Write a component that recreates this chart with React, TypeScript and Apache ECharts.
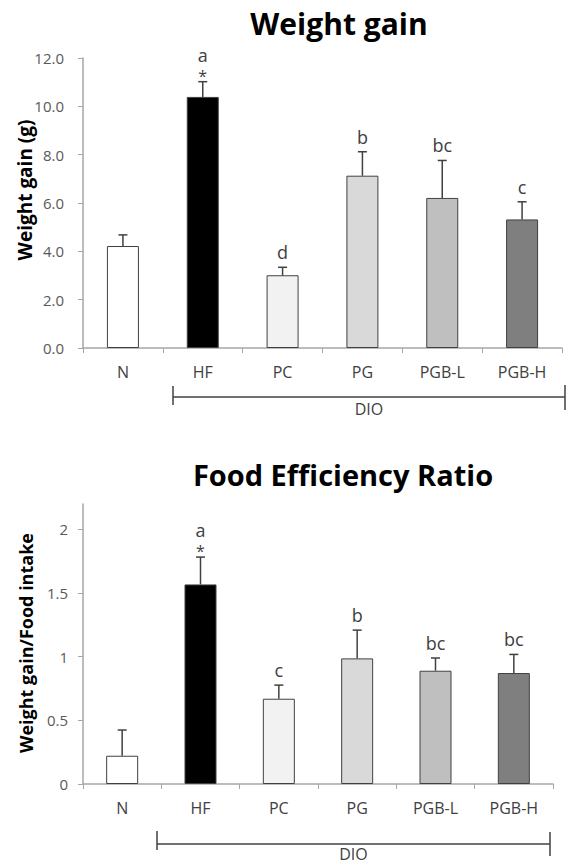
import React, { useEffect, useRef } from "react";
import * as echarts from "echarts";

const categories = ["N", "HF", "PC", "PG", "PGB-L", "PGB-H"];
const barColors = ["#ffffff", "#000000", "#f2f2f2", "#d9d9d9", "#bfbfbf", "#7f7f7f"];

const weightGain = [4.22, 10.39, 3.01, 7.13, 6.21, 5.32];
const weightGainErrTop = [4.68, 11.02, 3.34, 8.12, 7.76, 6.05];
const weightGainLetters = ["", "a", "d", "b", "bc", "c"];
const weightGainStars = [false, true, false, false, false, false];
const weightGainTicks = [0, 2, 4, 6, 8, 10, 12];

const fer = [0.222, 1.568, 0.67, 0.987, 0.89, 0.872];
const ferErrTop = [0.424, 1.783, 0.777, 1.209, 0.99, 1.018];
const ferLetters = ["", "a", "c", "b", "bc", "bc"];
const ferStars = [false, true, false, false, false, false];
const ferTicks = [0, 0.5, 1, 1.5, 2];

const FONT = "'Open Sans', 'Noto Sans', sans-serif";
const AXIS = "#a6a6a6";
const DARK = "#404040";

function errorSeries(axisIndex: number, vals: number[], tops: number[], letters: string[], stars: boolean[]) {
  return {
    type: "custom",
    xAxisIndex: axisIndex,
    yAxisIndex: axisIndex,
    z: 5,
    data: vals.map((v, i) => [i, v, tops[i]]),
    encode: { x: 0, y: [1, 2] },
    renderItem: (params: any, api: any) => {
      const i = params.dataIndex;
      const base = api.coord([i, vals[i]]);
      const top = api.coord([i, tops[i]]);
      const x = base[0];
      const children: any[] = [
        { type: "line", shape: { x1: x, y1: base[1], x2: x, y2: top[1] }, style: { stroke: DARK, lineWidth: 1.5 } },
        { type: "line", shape: { x1: x - 4.5, y1: top[1], x2: x + 4.5, y2: top[1] }, style: { stroke: DARK, lineWidth: 1.5 } },
      ];
      if (stars[i]) {
        children.push({
          type: "text",
          style: { text: "*", x, y: top[1] - 6, align: "center", verticalAlign: "middle", fontSize: 16, fontFamily: FONT, fill: DARK },
        });
        children.push({
          type: "text",
          style: { text: letters[i], x, y: top[1] - 27, align: "center", verticalAlign: "middle", fontSize: 18, fontFamily: FONT, fill: DARK },
        });
      } else if (letters[i]) {
        children.push({
          type: "text",
          style: { text: letters[i], x, y: top[1] - 15, align: "center", verticalAlign: "middle", fontSize: 18, fontFamily: FONT, fill: DARK },
        });
      }
      return { type: "group", children };
    },
  };
}

function barSeries(axisIndex: number, vals: number[]) {
  return {
    type: "bar",
    xAxisIndex: axisIndex,
    yAxisIndex: axisIndex,
    barWidth: 32,
    data: vals.map((v, i) => ({
      value: v,
      itemStyle: { color: barColors[i], borderColor: DARK, borderWidth: 1 },
    })),
  };
}

function xAxisCfg(gridIndex: number) {
  return {
    type: "category",
    gridIndex,
    data: categories,
    axisLine: { lineStyle: { color: AXIS, width: 1.5 } },
    axisTick: { show: true, length: 5, lineStyle: { color: AXIS } },
    axisLabel: { color: DARK, fontSize: 16, fontFamily: FONT, margin: 16 },
  };
}

export default function App() {
  const ref = useRef<HTMLDivElement>(null);
  useEffect(() => {
    if (!ref.current) return;
    const chart = echarts.init(ref.current, undefined, { renderer: "svg" });
    const bracket = (x1: number, x2: number, y: number, t1: number, b1: number, t2: number, b2: number, ty: number) => [
      { type: "line", shape: { x1, y1: y, x2, y2: y }, style: { stroke: DARK, lineWidth: 1.5 } },
      { type: "line", shape: { x1, y1: t1, x2: x1, y2: b1 }, style: { stroke: DARK, lineWidth: 1.5 } },
      { type: "line", shape: { x1: x2, y1: t2, x2, y2: b2 }, style: { stroke: DARK, lineWidth: 1.5 } },
      {
        type: "text",
        style: { text: "DIO", x: (x1 + x2) / 2, y: ty, align: "center", verticalAlign: "middle", fontSize: 16, fontFamily: FONT, fill: DARK },
      },
    ];
    chart.setOption({
      animation: false,
      backgroundColor: "#ffffff",
      grid: [
        { left: 83, top: 58, width: 479, height: 290 },
        { left: 83, top: 504, width: 470, height: 280 },
      ],
      xAxis: [xAxisCfg(0), xAxisCfg(1)],
      yAxis: [
        {
          type: "value",
          gridIndex: 0,
          min: 0,
          max: 12,
          interval: 2,
          splitLine: { show: false },
          axisLine: { show: true, lineStyle: { color: AXIS, width: 1.5 } },
          axisTick: { show: true, length: 5, lineStyle: { color: AXIS }, customValues: weightGainTicks },
          axisLabel: {
            color: "#595959",
            fontSize: 15,
            fontFamily: FONT,
            margin: 19,
            customValues: weightGainTicks,
            formatter: (v: number) => v.toFixed(1),
          },
        },
        {
          type: "value",
          gridIndex: 1,
          min: 0,
          max: 2.2,
          interval: 0.5,
          splitLine: { show: false },
          axisLine: { show: true, lineStyle: { color: AXIS, width: 1.5 } },
          axisTick: { show: true, length: 5, lineStyle: { color: AXIS }, customValues: ferTicks },
          axisLabel: {
            color: "#595959",
            fontSize: 15,
            fontFamily: FONT,
            margin: 15,
            customValues: ferTicks,
            formatter: (v: number) => String(v),
          },
        },
      ],
      series: [
        barSeries(0, weightGain),
        errorSeries(0, weightGain, weightGainErrTop, weightGainLetters, weightGainStars),
        barSeries(1, fer),
        errorSeries(1, fer, ferErrTop, ferLetters, ferStars),
      ],
      graphic: [
        {
          type: "text",
          style: { text: "Weight gain", x: 339, y: 23, align: "center", verticalAlign: "middle", fontSize: 30, fontWeight: "bold", fontFamily: FONT, fill: "#000" },
        },
        {
          type: "text",
          style: { text: "Food Efficiency Ratio", x: 343, y: 474, align: "center", verticalAlign: "middle", fontSize: 29, fontWeight: "bold", fontFamily: FONT, fill: "#000" },
        },
        {
          type: "text",
          x: 25,
          y: 190,
          rotation: Math.PI / 2,
          style: { text: "Weight gain (g)", x: 0, y: 0, align: "center", verticalAlign: "middle", fontSize: 19, fontWeight: "bold", fontFamily: FONT, fill: "#000" },
        },
        {
          type: "text",
          x: 26,
          y: 643,
          rotation: Math.PI / 2,
          style: { text: "Weight gain/Food intake", x: 0, y: 0, align: "center", verticalAlign: "middle", fontSize: 18, fontWeight: "bold", fontFamily: FONT, fill: "#000" },
        },
        ...bracket(173, 565, 397, 386, 405, 385, 410, 409),
        ...bracket(157, 550, 844, 831, 850, 832, 856, 854),
      ],
    });
    return () => chart.dispose();
  }, []);
  return <div ref={ref} style={{ position: "fixed", left: 0, top: 0, width: 568, height: 864 }} />;
}
